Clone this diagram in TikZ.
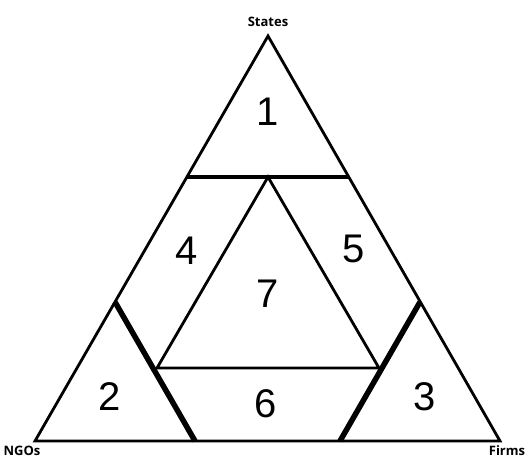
\documentclass[tikz,border=0pt]{standalone}
\usepackage{fontspec}
\setmainfont{Liberation Sans}
\newfontfamily\cornerfont{Open Sans}
\usetikzlibrary{positioning}
\tikzset{
    edge/.style={draw=black, line width=2.8pt, line join=miter},
    cutline/.style={draw=black, line width=5.5pt},
    topline/.style={draw=black, line width=4pt},
    region/.style={inner sep=0pt, font=\fontsize{40}{40}\selectfont},
    corner/.style={inner sep=0pt, font=\cornerfont\bfseries\fontsize{13}{13}\selectfont}
}
\begin{document}
\begin{tikzpicture}[x=1pt, y=-1pt]
    \useasboundingbox (0,0) rectangle (526,459);
    \coordinate (apex) at (268,36);
    \coordinate (bl) at (35,441);
    \coordinate (br) at (500,441);
    \coordinate (tl) at (187,177);
    \coordinate (tr) at (349,177);
    \coordinate (lu) at (115,302);
    \coordinate (ld) at (195,441);
    \coordinate (ru) at (420,302);
    \coordinate (rd) at (340,441);
    \coordinate (itop) at (268,177);
    \coordinate (ileft) at (157,368);
    \coordinate (iright) at (379,368);

    \draw [edge] (apex) -- (bl) -- (br) -- cycle;
    \draw [topline] (tl) -- (tr);
    \draw [cutline] (lu) -- (ld);
    \draw [cutline] (ru) -- (rd);
    \draw [edge] (itop) -- (ileft) -- (iright) -- cycle;

    \node (states) [corner] at (268,22) {States};
    \node (ngos) [corner] at (22,451) {NGOs};
    \node (firms) [corner] at (507,451) {Firms};

    \node (r1) [region] at (268,112) {1};
    \node (r2) [region] at (110,397) {2};
    \node (r3) [region] at (425,397) {3};
    \node (r4) [region] at (187,251) {4};
    \node (r5) [region] at (354,249) {5};
    \node (r6) [region] at (266,404) {6};
    \node (r7) [region] at (268,294) {7};
\end{tikzpicture}
\end{document}
